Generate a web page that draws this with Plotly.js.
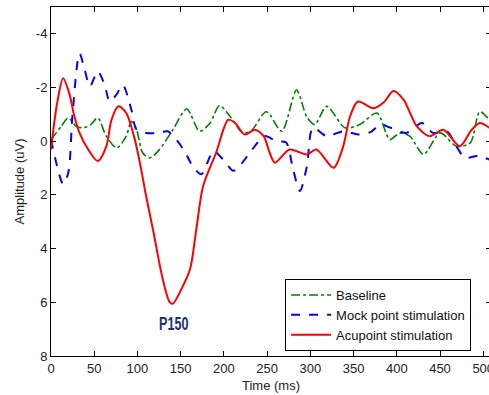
<!DOCTYPE html>
<html>
<head>
<meta charset="utf-8">
<script src="https://cdn.plot.ly/plotly-3.0.1.min.js"></script>
<style>
html, body { margin:0; padding:0; overflow:hidden; background:#fff; }
#chart { width:491px; height:395px; }
.annotation-text { transform-box: fill-box; transform-origin: center; transform: scaleX(0.7); }
</style>
</head>
<body>
<div id="chart"></div>
<script>
// ---- Data ----
const seriesNames = ["Baseline", "Mock point stimulation", "Acupoint stimulation"];

const baselineTime = [0, 12, 20, 29, 37, 46, 54, 64, 76, 87, 93, 99, 106, 114, 124, 141, 157, 172, 184, 195, 207, 222, 232, 249, 267, 284, 296, 305, 319, 340, 357, 377, 392, 403, 415, 431, 450, 469, 485, 496, 507];
const baselineAmp  = [-0.06, -0.56, -0.87, -0.56, -0.5, -0.62, -0.87, -0.19, 0.25, -0.19, -0.74, -0.43, 0.43, 0.62, 0.37, -0.43, -1.2, -0.37, -0.68, -1.33, -0.93, -0.31, -0.4, -1.1, -0.37, -1.91, -0.9, -0.62, -1.3, -0.5, -0.62, -1.05, -0.06, -0.3, -0.19, 0.49, -0.31, 0.19, 0.06, -1.1, -0.8];

const mockTime = [0, 8, 14, 20, 25, 33, 39, 45, 54, 62, 68, 76, 83, 93, 99, 110, 122, 135, 145, 155, 164, 174, 188, 199, 211, 220, 230, 247, 261, 272, 280, 288, 296, 303, 319, 338, 357, 370, 381, 393, 411, 429, 442, 458, 469, 479, 493, 507];
const mockAmp  = [-0.06, 1.05, 1.6, 1.17, -1.05, -3.27, -2.66, -2.04, -2.6, -2.1, -1.48, -1.75, -2.1, -1.17, -0.43, -0.31, -0.3, -0.37, -0.06, 0.4, 0.93, 1.23, 0.37, 0.68, 1.1, 0.85, 0.43, -0.19, 0.0, 0.05, 1.05, 1.85, 0.93, -0.5, -0.19, -0.37, -0.25, -0.35, -0.62, -0.5, -0.31, -0.68, -0.31, -0.37, 0.19, 0.62, 0.55, 0.68];

const acuTime = [0, 7, 14, 21, 27, 33, 43, 54, 64, 70, 78, 87, 97, 104, 110, 118, 129, 137, 141, 151, 161, 168, 176, 191, 205, 213, 224, 236, 246, 253, 259, 276, 296, 307, 327, 338, 346, 355, 373, 385, 396, 408, 423, 438, 454, 473, 486, 496, 507];
const acuAmp  = [0.3, -1.4, -2.35, -1.8, -0.93, -0.31, 0.31, 0.74, 0.19, -0.8, -1.3, -1.05, -0.06, 1.0, 2.04, 3.3, 5.1, 5.98, 6.05, 5.5, 4.75, 3.3, 1.67, 0.43, -0.8, -0.68, -0.25, -0.43, -0.19, 0.43, 0.8, 0.31, 0.49, 0.31, 0.99, 0.19, -0.93, -1.48, -1.23, -1.45, -1.87, -1.54, -0.56, -0.19, -0.43, 0.19, -0.4, -0.68, -0.5];

const xTicks = [0, 50, 100, 150, 200, 250, 300, 350, 400, 450, 500];
const yTicks = [-4, -2, 0, 2, 4, 6, 8];
const yTickLabels = ["-4", "-2", "0", "2", "4", "6", "8"];

const peakLabel = "P150";
const peakLabelTime = 142;
const peakLabelAmp = 6.8;

// ---- Traces ----
const traces = [
  { x: baselineTime, y: baselineAmp, name: seriesNames[0], mode: "lines",
    line: { color: "#008000", width: 1.6, dash: "dashdot", shape: "spline", smoothing: 0.8 } },
  { x: mockTime, y: mockAmp, name: seriesNames[1], mode: "lines",
    line: { color: "#0000ff", width: 2, dash: "dash", shape: "spline", smoothing: 0.8 } },
  { x: acuTime, y: acuAmp, name: seriesNames[2], mode: "lines",
    line: { color: "#ff0000", width: 2, shape: "spline", smoothing: 0.8 } }
];

const axisFont = { family: "Liberation Sans, Arial, sans-serif", size: 13, color: "#222" };

const layout = {
  width: 491, height: 395,
  margin: { l: 51, r: 0, t: 7, b: 39 },
  paper_bgcolor: "#fff", plot_bgcolor: "#fff",
  font: axisFont,
  showlegend: true,
  legend: {
    x: 0.532, y: 0.2206, xanchor: "left", yanchor: "top",
    bgcolor: "#fff", bordercolor: "#000", borderwidth: 1,
    font: { family: "Liberation Sans, Arial, sans-serif", size: 13, color: "#111" },
    tracegroupgap: 0, itemwidth: 40
  },
  xaxis: {
    range: [0, 509], tickvals: xTicks, ticks: "inside", ticklen: 5, tickcolor: "#000",
    showline: true, linecolor: "#000", linewidth: 1, mirror: "ticks",
    showgrid: false, zeroline: false, tickfont: axisFont, ticklabeloverflow: "allow",
    title: { text: "Time (ms)", font: axisFont, standoff: 6 }
  },
  yaxis: {
    range: [8, -5], tickvals: yTicks, ticktext: yTickLabels, ticks: "inside", ticklen: 5, tickcolor: "#000",
    showline: true, linecolor: "#000", linewidth: 1, mirror: "ticks",
    showgrid: false, zeroline: false, tickfont: axisFont,
    title: { text: "Amplitude (uV)", font: axisFont, standoff: 8 }
  },
  annotations: [{
    x: peakLabelTime, y: peakLabelAmp, xref: "x", yref: "y", text: "<b>" + peakLabel + "</b>",
    showarrow: false,
    font: { family: "Liberation Sans, Arial, sans-serif", size: 18, color: "#1c2f6e" }
  }]
};

Plotly.newPlot("chart", traces, layout, { staticPlot: true, displayModeBar: false });
</script>
</body>
</html>
